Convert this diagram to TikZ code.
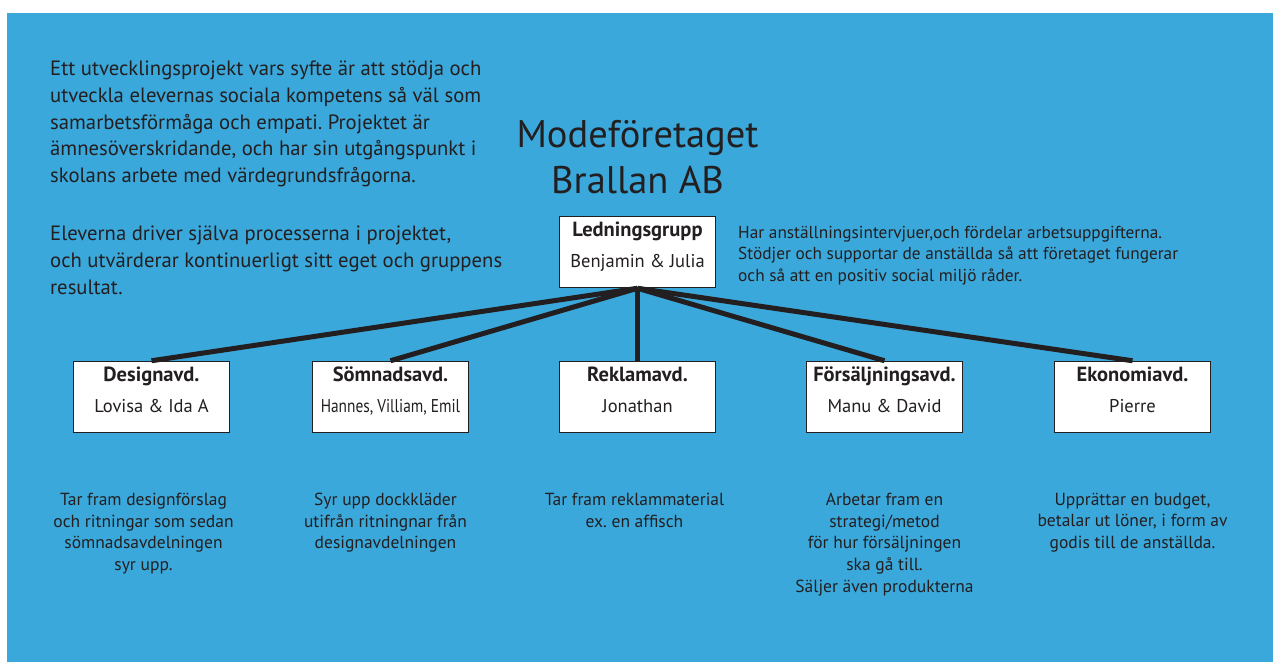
\documentclass[tikz,border=0pt]{standalone}
\usepackage{fontspec}
\setmainfont{PT Sans}
\newfontfamily\narrowfont[FakeStretch=0.83]{PT Sans}
\usetikzlibrary{positioning}
\frenchspacing
\definecolor{bgblue}{RGB}{58,168,219}
\definecolor{ink}{RGB}{35,31,32}
\newcommand{\depttitle}[1]{{\fontsize{20.5}{22}\selectfont\bfseries #1}}
\tikzset{%
    dept/.style = {draw=ink, fill=white, rectangle, line width=1.5pt,
        minimum width=156pt, minimum height=71pt, align=center,
        inner sep=0pt, text depth=14pt, font=\fontsize{18.5}{22}\selectfont},
    note/.style = {align=center, inner sep=0pt,
        font=\fontsize{17.5}{21.7}\selectfont},
    link/.style = {draw=ink, line width=5pt}
}

\begin{document}
\begin{tikzpicture}[x=1pt, y=-1pt, node distance=72.5pt, text=ink]
    \useasboundingbox (0,0) rectangle (1273,662);
    \fill[bgblue] (7,13) rectangle (1273,662);

    \node [anchor=north west, inner sep=0pt, align=left,
        font=\fontsize{20.7}{26.6}\selectfont] (intro) at (50,61)
        {Ett utvecklingsprojekt vars syfte är att stödja och\\
         utveckla elevernas sociala kompetens så väl som\\
         samarbetsförmåga och empati. Projektet är\\
         ämnesöverskridande, och har sin utgångspunkt i\\
         skolans arbete med värdegrundsfrågorna.\\[32pt]
         Eleverna driver själva processerna i projektet,\\
         och utvärderar kontinuerligt sitt eget och gruppens\\
         resultat.};
    \node [anchor=north, inner sep=0pt, align=center,
        font=\fontsize{38.5}{46}\selectfont] (title) at (637.5,120)
        {Modeföretaget\\Brallan AB};

    \node [dept] (lead) at (637.5,252)
        {\depttitle{Ledningsgrupp}\\[9pt]Benjamin \& Julia};
    \node [anchor=north west, inner sep=0pt, align=left,
        font=\fontsize{17.3}{21.5}\selectfont] (leadnote) at (738,226)
        {Har anställningsintervjuer,och fördelar arbetsuppgifterna.\\
         Stödjer och supportar de anställda så att företaget fungerar\\
         och så att en positiv social miljö råder.};

    \node [dept, below=of lead] (reklam)
        {\depttitle{Reklamavd.}\\[9pt]Jonathan};
    \node [dept, left=89.5pt of reklam] (somnad)
        {\depttitle{Sömnadsavd.}\\[9pt]{\narrowfont Hannes, Villiam, Emil}};
    \node [dept, left=81.5pt of somnad] (design)
        {\depttitle{Designavd.}\\[9pt]Lovisa \& Ida A};
    \node [dept, right=89.5pt of reklam] (salj)
        {\depttitle{Försäljningsavd.}\\[9pt]Manu \& David};
    \node [dept, right=90.5pt of salj] (ekon)
        {\depttitle{Ekonomiavd.}\\[9pt]Pierre};

    \draw [link] (lead.south) edge (design.north) edge (somnad.north)
        edge (reklam.north) edge (salj.north) edge (ekon.north);

    \node [note, below=59.5pt of design, xshift=-8pt] (designnote)
        {Tar fram designförslag\\och ritningar som sedan\\
         sömnadsavdelningen\\syr upp.};
    \node [note, below=59.5pt of somnad, xshift=-5pt] (somnadnote)
        {Syr upp dockkläder\\utifrån ritningnar från\\designavdelningen};
    \node [note, below=59.5pt of reklam, xshift=-3pt] (reklamnote)
        {Tar fram reklammaterial\\ex. en affisch};
    \node [note, below=59.5pt of salj] (saljnote)
        {Arbetar fram en\\strategi/metod\\för hur försäljningen\\
         ska gå till.\\Säljer även produkterna};
    \node [note, below=59.5pt of ekon] (ekonnote)
        {Upprättar en budget,\\betalar ut löner, i form av\\
         godis till de anställda.};
\end{tikzpicture}
\end{document}
